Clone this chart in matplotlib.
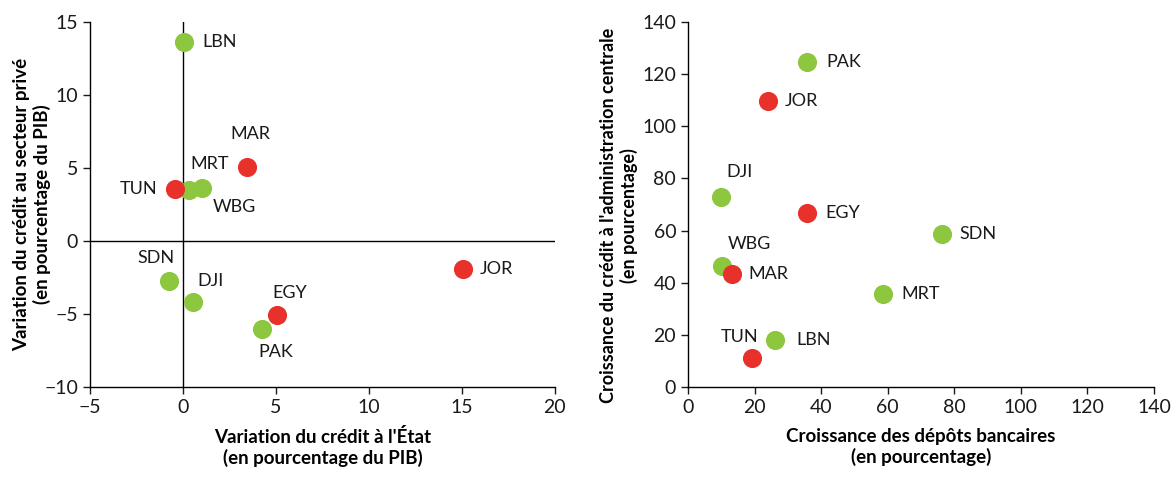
import matplotlib
matplotlib.use("Agg")
import matplotlib.pyplot as plt

plt.rcParams['font.family'] = ['Lato', 'DejaVu Sans']

green = '#8dc63f'
red = '#e8312a'

# left panel: change in credit to government vs private sector (% of GDP)
left_codes = ['LBN', 'MAR', 'TUN', 'MRT', 'WBG', 'SDN', 'DJI', 'EGY', 'PAK', 'JOR']
left_x = [0.06, 3.42, -0.42, 0.3, 1.04, -0.78, 0.52, 5.08, 4.24, 15.06]
left_y = [13.6, 5.07, 3.54, 3.47, 3.63, -2.77, -4.18, -5.1, -6.01, -1.9]
left_red = [False, True, True, False, False, False, False, True, False, True]
# label offsets in points and alignment
left_off = [(13, 0, 'left'), (3, 24, 'center'), (-13, 0, 'right'), (15, 19, 'center'),
            (23, -14, 'center'), (-9, 17, 'center'), (13, 15, 'center'), (9, 16, 'center'),
            (10, -17, 'center'), (12, 0, 'left')]

# right panel: bank deposit growth vs credit to central government growth (%)
right_codes = ['PAK', 'JOR', 'DJI', 'EGY', 'SDN', 'WBG', 'MAR', 'MRT', 'TUN', 'LBN']
right_x = [35.8, 24.0, 10.0, 35.9, 76.4, 10.1, 13.2, 58.7, 19.3, 26.0]
right_y = [124.8, 109.9, 73.0, 66.6, 58.6, 46.3, 43.3, 35.8, 11.1, 18.2]
right_red = [False, True, False, True, False, False, True, False, True, False]
right_off = [(14, 0, 'left'), (12, 0, 'left'), (13, 18, 'center'), (13, 0, 'left'),
             (12, 0, 'left'), (20, 16, 'center'), (12, 0, 'left'), (13, 0, 'left'),
             (-9, 15, 'center'), (16, 0, 'left')]

fig = plt.figure(figsize=(11.74, 4.79), dpi=100)
ax1 = fig.add_axes([0.0767, 0.192, 0.396, 0.762])
ax2 = fig.add_axes([0.586, 0.192, 0.397, 0.762])


def scatter_panel(ax, codes, xs, ys, reds, offs):
    # greens first, reds on top
    for want_red in (False, True):
        for c, x, y, r in zip(codes, xs, ys, reds):
            if r != want_red:
                continue
            ax.scatter(x, y, s=190, color=red if r else green, zorder=3, linewidths=0)
    for c, x, y, (dx, dy, ha) in zip(codes, xs, ys, offs):
        ax.annotate(c, (x, y), xytext=(dx, dy), textcoords='offset points',
                    ha=ha, va='center', fontsize=13, color='#1a1a1a')
    for s in ['top', 'right']:
        ax.spines[s].set_visible(False)
    for s in ['left', 'bottom']:
        ax.spines[s].set_linewidth(1.0)
    ax.tick_params(direction='out', length=5, width=1, labelsize=14, colors='#1a1a1a')


scatter_panel(ax1, left_codes, left_x, left_y, left_red, left_off)
ax1.set_xlim(-5, 20)
ax1.set_ylim(-10, 15)
ax1.set_xticks([-5, 0, 5, 10, 15, 20])
ax1.set_yticks([-10, -5, 0, 5, 10, 15])
ax1.axhline(0, color='black', lw=1, zorder=1)
ax1.axvline(0, color='black', lw=1, zorder=1)
ax1.set_xlabel("Variation du crédit à l'État\n(en pourcentage du PIB)",
               fontsize=13.5, fontweight='bold', labelpad=9)
ax1.set_ylabel("Variation du crédit au secteur privé\n(en pourcentage du PIB)",
               fontsize=13.5, fontweight='bold')
ax1.yaxis.set_label_coords(-0.084, 0.5)

scatter_panel(ax2, right_codes, right_x, right_y, right_red, right_off)
ax2.set_xlim(0, 140)
ax2.set_ylim(0, 140)
ax2.set_xticks(range(0, 141, 20))
ax2.set_yticks(range(0, 141, 20))
ax2.set_xlabel("Croissance des dépôts bancaires\n(en pourcentage)",
               fontsize=13.5, fontweight='bold', labelpad=9)
ax2.set_ylabel("Croissance du crédit à l'administration centrale\n(en pourcentage)",
               fontsize=13, fontweight='bold')
ax2.yaxis.set_label_coords(-0.107, 0.47)

fig.savefig('out.png', dpi=100)
